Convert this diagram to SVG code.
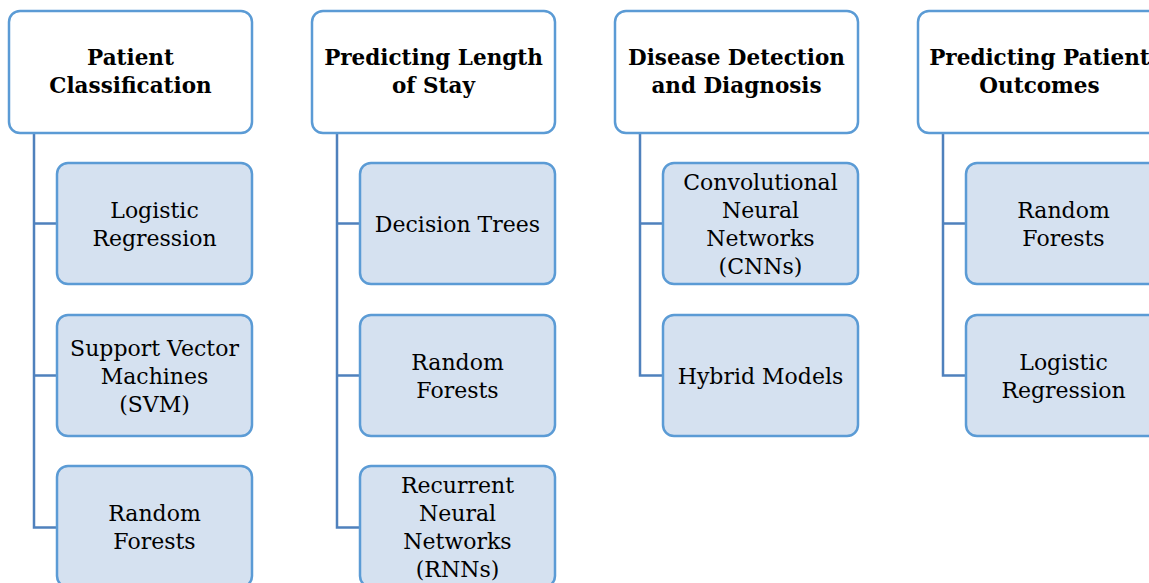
<svg xmlns="http://www.w3.org/2000/svg" width="1149" height="583" viewBox="0 0 1149 583">
<style>
.hdr{fill:#ffffff;stroke:#5b9bd5;stroke-width:2.5}
.child{fill:#d5e1f0;stroke:#5b9bd5;stroke-width:2.5}
.conn{fill:none;stroke:#4f81bd;stroke-width:2.5}
.ht{font-family:"DejaVu Serif","Liberation Serif",serif;font-weight:bold;font-size:21.5px;fill:#000;text-anchor:middle}
.ct{font-family:"DejaVu Serif","Liberation Serif",serif;font-size:22px;fill:#000;text-anchor:middle}
</style>
<rect width="1149" height="583" fill="#ffffff"/>
<g id="connectors">
<path class="conn" d="M34,133 V527.5 H57 M34,223.5 H57 M34,375.5 H57"/>
<path class="conn" d="M337,133 V527.5 H360 M337,223.5 H360 M337,375.5 H360"/>
<path class="conn" d="M640,133 V375.5 H663 M640,223.5 H663"/>
<path class="conn" d="M943,133 V375.5 H966 M943,223.5 H966"/>
</g>
<g id="h1"><rect class="hdr" x="9" y="11" width="243" height="122" rx="11"/><text class="ht" x="130.5" y="65">Patient</text><text class="ht" x="130.5" y="93">Classification</text></g>
<g id="c1a"><rect class="child" x="57" y="163" width="195" height="121" rx="11"/><text class="ct" x="154.5" y="218">Logistic</text><text class="ct" x="154.5" y="246">Regression</text></g>
<g id="c1b"><rect class="child" x="57" y="315" width="195" height="121" rx="11"/><text class="ct" x="154.5" y="356">Support Vector</text><text class="ct" x="154.5" y="384">Machines</text><text class="ct" x="154.5" y="412">(SVM)</text></g>
<g id="c1c"><rect class="child" x="57" y="466" width="195" height="121" rx="11"/><text class="ct" x="154.5" y="521">Random</text><text class="ct" x="154.5" y="549">Forests</text></g>
<g id="h2"><rect class="hdr" x="312" y="11" width="243" height="122" rx="11"/><text class="ht" x="433.5" y="65">Predicting Length</text><text class="ht" x="433.5" y="93">of Stay</text></g>
<g id="c2a"><rect class="child" x="360" y="163" width="195" height="121" rx="11"/><text class="ct" x="457.5" y="232">Decision Trees</text></g>
<g id="c2b"><rect class="child" x="360" y="315" width="195" height="121" rx="11"/><text class="ct" x="457.5" y="370">Random</text><text class="ct" x="457.5" y="398">Forests</text></g>
<g id="c2c"><rect class="child" x="360" y="466" width="195" height="121" rx="11"/><text class="ct" x="457.5" y="493">Recurrent</text><text class="ct" x="457.5" y="521">Neural</text><text class="ct" x="457.5" y="549">Networks</text><text class="ct" x="457.5" y="577">(RNNs)</text></g>
<g id="h3"><rect class="hdr" x="615" y="11" width="243" height="122" rx="11"/><text class="ht" x="736.5" y="65">Disease Detection</text><text class="ht" x="736.5" y="93">and Diagnosis</text></g>
<g id="c3a"><rect class="child" x="663" y="163" width="195" height="121" rx="11"/><text class="ct" x="760.5" y="190">Convolutional</text><text class="ct" x="760.5" y="218">Neural</text><text class="ct" x="760.5" y="246">Networks</text><text class="ct" x="760.5" y="274">(CNNs)</text></g>
<g id="c3b"><rect class="child" x="663" y="315" width="195" height="121" rx="11"/><text class="ct" x="760.5" y="384">Hybrid Models</text></g>
<g id="h4"><rect class="hdr" x="918" y="11" width="243" height="122" rx="11"/><text class="ht" x="1039.5" y="65">Predicting Patient</text><text class="ht" x="1039.5" y="93">Outcomes</text></g>
<g id="c4a"><rect class="child" x="966" y="163" width="195" height="121" rx="11"/><text class="ct" x="1063.5" y="218">Random</text><text class="ct" x="1063.5" y="246">Forests</text></g>
<g id="c4b"><rect class="child" x="966" y="315" width="195" height="121" rx="11"/><text class="ct" x="1063.5" y="370">Logistic</text><text class="ct" x="1063.5" y="398">Regression</text></g>
</svg>
